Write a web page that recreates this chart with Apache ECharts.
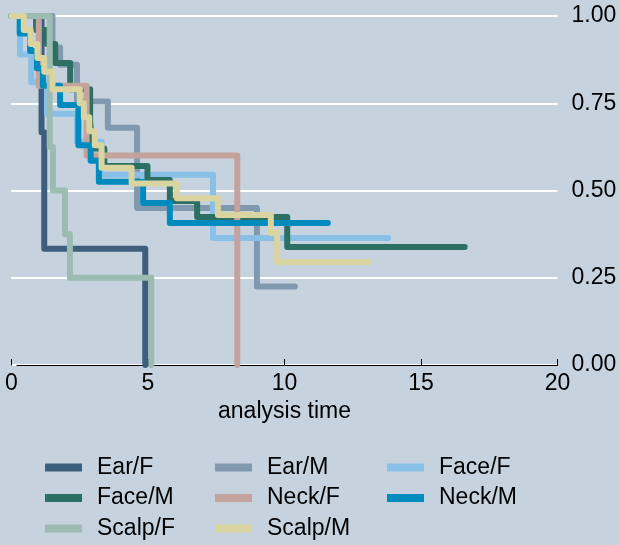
<!DOCTYPE html>
<html>
<head>
<meta charset="utf-8">
<script src="https://cdn.jsdelivr.net/npm/echarts@6/dist/echarts.min.js"></script>
<style>
html,body{margin:0;padding:0;background:#c6d3df;}
#chart{width:620px;height:545px;}
</style>
</head>
<body>
<div id="chart"></div>
<script>
// Kaplan-Meier step data: [analysis time, survival]
const earF   = [[0,1],[1.1,0.667],[1.2,0.333],[4.9,0]];
const earM   = [[0,1],[1.5,0.91],[1.78,0.86],[2.4,0.755],[3.53,0.68],[4.6,0.45],[8.99,0.225],[10.38,0.225]];
const faceF  = [[0,1],[0.31,0.89],[0.72,0.81],[1.3,0.72],[2.4,0.64],[3.3,0.545],[7.38,0.364],[13.8,0.364]];
const faceM  = [[0,1],[0.9,0.96],[1.3,0.92],[1.6,0.865],[2.15,0.79],[2.88,0.70],[2.95,0.62],[3.4,0.57],[4.98,0.53],[5.8,0.47],[6.8,0.424],[10.1,0.338],[16.6,0.338]];
const neckF  = [[0,1],[1.0,0.8],[2.75,0.6],[8.27,0]];
const neckM  = [[0,1],[0.3,0.95],[0.68,0.9],[0.93,0.85],[1.15,0.8],[1.78,0.745],[2.45,0.63],[2.9,0.585],[3.2,0.525],[4.82,0.464],[5.8,0.407],[11.59,0.407]];
const scalpF = [[0,1],[1.4,0.625],[1.52,0.5],[1.96,0.375],[2.14,0.25],[5.12,0]];
const scalpM = [[0,1],[0.45,0.96],[0.7,0.92],[0.95,0.88],[1.2,0.84],[1.5,0.79],[2.5,0.75],[2.65,0.71],[2.85,0.67],[3.05,0.63],[3.3,0.565],[4.4,0.52],[6.06,0.478],[7.56,0.43],[9.5,0.378],[9.73,0.295],[13.1,0.295]];

const seriesNames = ['Ear/F','Ear/M','Face/F','Face/M','Neck/F','Neck/M','Scalp/F','Scalp/M'];
const seriesData  = [earF, earM, faceF, faceM, neckF, neckM, scalpF, scalpM];
const seriesColors = ['#3d5f7d','#8199af','#88c0e8','#2d6f62','#c3a39c','#008bbf','#9cbbb1','#dad5a0'];
const xTicks = [0, 5, 10, 15, 20];
const yTicks = [0, 0.25, 0.5, 0.75, 1];

const FONT = 'Liberation Sans, Arial, sans-serif';
const FS = 23;
const chart = echarts.init(document.getElementById('chart'), null, {renderer:'canvas'});

function legendCol(left, names){
  return {
    orient:'vertical', left:left, top:456, padding:0, itemGap:7.5,
    itemWidth:37, itemHeight:8, icon:'rect',
    data:names,
    textStyle:{fontSize:FS, color:'#000', fontFamily:FONT, padding:[0,0,0,10]}
  };
}

chart.setOption({
  backgroundColor:'#c6d3df',
  animation:false,
  grid:{left:11.5, right:62.5, top:16, bottom:180, containLabel:false},
  xAxis:{
    type:'value', min:xTicks[0], max:xTicks[xTicks.length-1], interval:5,
    axisLine:{show:true, lineStyle:{color:'#000', width:1}},
    axisTick:{show:true, inside:true, length:6, lineStyle:{color:'#000', width:1}},
    axisLabel:{fontSize:FS, color:'#000', fontFamily:FONT, margin:7},
    splitLine:{show:false},
    name:'analysis time', nameLocation:'middle', nameGap:34,
    nameTextStyle:{fontSize:FS, color:'#000', fontFamily:FONT}
  },
  yAxis:{
    type:'value', position:'right', min:yTicks[0], max:yTicks[yTicks.length-1], interval:0.25,
    axisLine:{show:false},
    axisTick:{show:true, length:5, lineStyle:{color:'#fff', width:2}},
    axisLabel:{fontSize:FS, color:'#000', fontFamily:FONT, margin:14,
      formatter:v=>v.toFixed(2)},
    splitLine:{show:true, lineStyle:{color:'#fff', width:2}}
  },
  legend:[
    legendCol(45, ['Ear/F','Face/M','Scalp/F']),
    legendCol(215, ['Ear/M','Neck/F','Scalp/M']),
    legendCol(387, ['Face/F','Neck/M'])
  ],
  series: seriesNames.map((n,i)=>({
    name:n, type:'line', step:'end', data:seriesData[i],
    showSymbol:false, symbol:'none', color:seriesColors[i],
    lineStyle:{width:6, color:seriesColors[i], cap:'round', join:'round'},
    z:2+i
  }))
});
</script>
</body>
</html>
